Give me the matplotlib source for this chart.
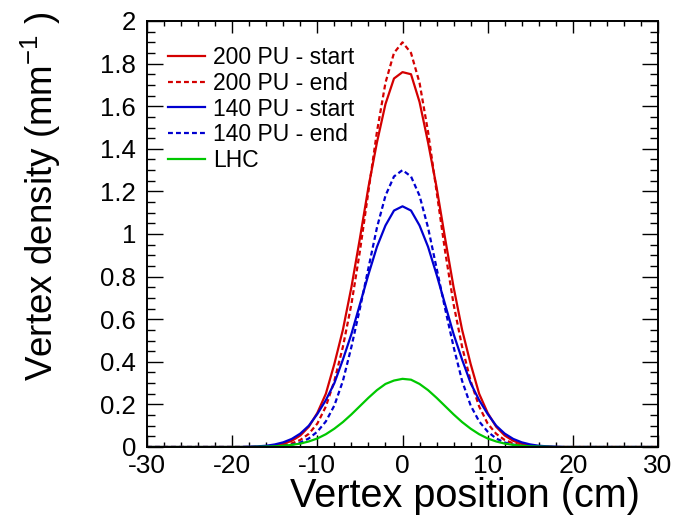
import matplotlib
matplotlib.use("Agg")
import matplotlib.pyplot as plt
from matplotlib.ticker import MultipleLocator

plt.rcParams['font.family'] = ['Liberation Sans', 'DejaVu Sans']
plt.rcParams['mathtext.fontset'] = 'custom'
plt.rcParams['mathtext.rm'] = 'Liberation Sans'
plt.rcParams['mathtext.it'] = 'Liberation Sans:italic'
plt.rcParams['axes.unicode_minus'] = False

# vertex position grid (cm)
position = [-30, -20, -19, -18, -17, -16, -15, -14, -13, -12, -11, -10, -9, -8, -7, -6,
            -5, -4, -3, -2, -1, 0, 1, 2, 3, 4, 5, 6, 7, 8, 9, 10, 11, 12, 13, 14, 15,
            16, 17, 18, 19, 20, 30]

# vertex density (mm^-1) for each beam scenario
pu200_start = [0, 0, 0, 0, 0.001, 0.003, 0.007, 0.015, 0.029, 0.054, 0.095, 0.16, 0.25,
               0.39, 0.55, 0.75, 0.98, 1.22, 1.43, 1.61, 1.73, 1.76, 1.75, 1.62, 1.43,
               1.22, 0.98, 0.75, 0.55, 0.39, 0.25, 0.16, 0.095, 0.054, 0.029, 0.015,
               0.007, 0.003, 0.001, 0, 0, 0, 0]
pu200_end = [0, 0, 0, 0, 0.001, 0.002, 0.004, 0.008, 0.017, 0.033, 0.062, 0.11, 0.19,
             0.31, 0.47, 0.67, 0.92, 1.20, 1.48, 1.71, 1.85, 1.90, 1.85, 1.71, 1.48,
             1.20, 0.92, 0.67, 0.47, 0.31, 0.19, 0.11, 0.062, 0.033, 0.017, 0.008,
             0.004, 0.002, 0.001, 0, 0, 0, 0]
pu140_start = [0, 0, 0, 0.0015, 0.003, 0.006, 0.012, 0.022, 0.038, 0.063, 0.10, 0.155,
               0.22, 0.30, 0.41, 0.53, 0.67, 0.81, 0.94, 1.04, 1.11, 1.13, 1.11, 1.04,
               0.94, 0.81, 0.67, 0.53, 0.41, 0.30, 0.22, 0.155, 0.10, 0.063, 0.038,
               0.022, 0.012, 0.006, 0.003, 0.0015, 0, 0, 0]
pu140_end = [0, 0, 0, 0, 0, 0.001, 0.002, 0.005, 0.011, 0.021, 0.04, 0.072, 0.12, 0.195,
             0.31, 0.47, 0.65, 0.84, 1.03, 1.18, 1.27, 1.30, 1.27, 1.18, 1.03, 0.84,
             0.65, 0.47, 0.31, 0.195, 0.12, 0.072, 0.04, 0.021, 0.011, 0.005, 0.002,
             0.001, 0, 0, 0, 0, 0]
lhc = [0, 0, 0, 0, 0.001, 0.002, 0.003, 0.006, 0.010, 0.016, 0.026, 0.040, 0.060, 0.086,
       0.117, 0.153, 0.192, 0.231, 0.267, 0.296, 0.312, 0.32, 0.316, 0.296, 0.267, 0.231,
       0.192, 0.153, 0.117, 0.086, 0.060, 0.040, 0.026, 0.016, 0.010, 0.006, 0.003,
       0.002, 0.001, 0, 0, 0, 0]

labels = ['200 PU - start', '200 PU - end', '140 PU - start', '140 PU - end', 'LHC']

red = '#d40000'
blue = '#0000d0'
green = '#00c800'
lw = 1.6
dash = (2.2, 1.4)

fig = plt.figure(figsize=(6.77, 5.24), dpi=100)
ax = fig.add_axes([147 / 677, 77 / 524, 511 / 677, 426 / 524])

ax.plot(position, pu200_start, color=red, lw=lw, label=labels[0])
ax.plot(position, pu200_end, color=red, lw=lw, dashes=dash, label=labels[1])
ax.plot(position, pu140_start, color=blue, lw=lw, label=labels[2])
ax.plot(position, pu140_end, color=blue, lw=lw, dashes=dash, label=labels[3])
ax.plot(position, lhc, color=green, lw=lw, label=labels[4])

ax.set_xlim(-30, 30)
ax.set_ylim(0, 2)

ax.xaxis.set_major_locator(MultipleLocator(10))
ax.xaxis.set_minor_locator(MultipleLocator(2))
ax.yaxis.set_major_locator(MultipleLocator(0.2))
ax.yaxis.set_minor_locator(MultipleLocator(0.05))
ax.yaxis.set_major_formatter(lambda v, p: '0' if abs(v) < 1e-9 else ('%g' % v))

ax.tick_params(which='both', direction='in', top=True, right=True, width=1, color='black')
ax.tick_params(axis='x', which='major', length=8.6, labelsize=19, pad=5)
ax.tick_params(axis='x', which='minor', length=3.6)
ax.tick_params(axis='y', which='major', length=11.5, labelsize=18.5, pad=8)
ax.tick_params(axis='y', which='minor', length=5.8)
for s in ax.spines.values():
    s.set_linewidth(1.4)

ax.set_xlabel('Vertex position (cm)', fontsize=28.5, ha='right')
ax.xaxis.set_label_coords(0.965, -0.07)
ax.set_ylabel(r'Vertex density (mm$^{\mathrm{-1}}$ )', fontsize=26.5, ha='right')
ax.yaxis.set_label_coords(-0.165, 1.022)

ax.legend(loc='upper left', bbox_to_anchor=(168 / 677, 1 - 46 / 524),
          bbox_transform=fig.transFigure, frameon=False, fontsize=16.5,
          handlelength=1.6, handletextpad=0.35, labelspacing=0.12,
          borderpad=0, borderaxespad=0)

fig.savefig('out.png', dpi=100)
